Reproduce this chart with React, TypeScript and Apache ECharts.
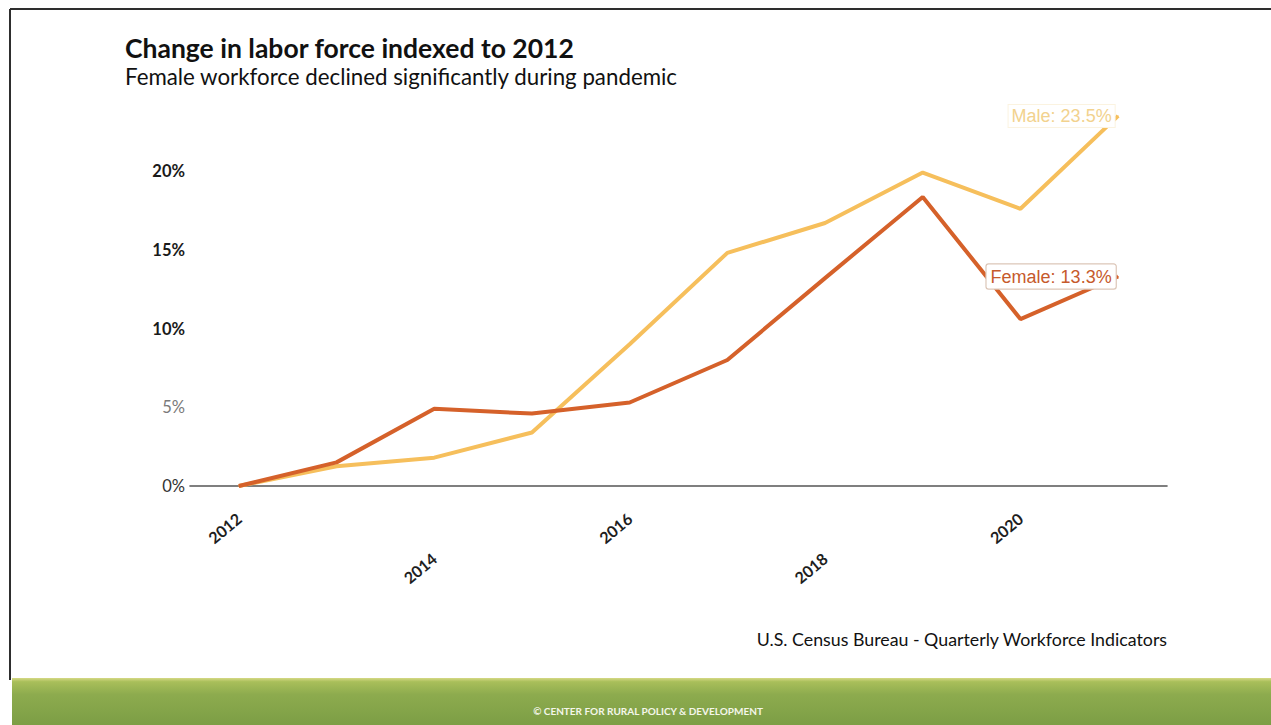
import React, { useEffect, useRef } from 'react';
import * as echarts from 'echarts';

const years = ['2012', '2013', '2014', '2015', '2016', '2017', '2018', '2019', '2020', '2021'];
const female = [0, 1.5, 4.9, 4.6, 5.3, 8.0, 13.2, 18.35, 10.6, 13.3];
const male = [0, 1.25, 1.8, 3.4, 9.0, 14.8, 16.7, 19.9, 17.6, 23.5];
const yMax = 25;
const yStep = 5;

const titleText = 'Change in labor force indexed to 2012';
const subtitleText = 'Female workforce declined significantly during pandemic';
const sourceText = 'U.S. Census Bureau - Quarterly Workforce Indicators';
const footerText = '© CENTER FOR RURAL POLICY & DEVELOPMENT';

const FEMALE_COLOR = '#d5612a';
const MALE_COLOR = '#f6bf5c';

function lastLabelData(values: number[], label: any) {
  return values.map((v, i) => (i === values.length - 1 ? { value: v, label } : v));
}

export default function App() {
  const ref = useRef<HTMLDivElement>(null);

  useEffect(() => {
    if (!ref.current) return;
    const chart = echarts.init(ref.current, undefined, { renderer: 'svg' });
    const font = 'Lato, "Open Sans", sans-serif';
    const xLabel = {
      rotate: 40,
      fontFamily: font,
      fontSize: 16,
      fontWeight: 'bold',
      color: '#1e1e1e',
    };
    const option: any = {
      animation: false,
      backgroundColor: '#ffffff',
      grid: { left: 190, right: 104, top: 92.25, bottom: 239, containLabel: false },
      xAxis: [
        {
          type: 'category',
          data: years,
          boundaryGap: true,
          axisLine: { show: true, lineStyle: { color: '#555555', width: 1.6 } },
          axisTick: { show: false },
          axisLabel: { ...xLabel, interval: (i: number) => i % 4 === 0, margin: 30 },
          splitLine: { show: false },
        },
        {
          type: 'category',
          data: years,
          boundaryGap: true,
          position: 'bottom',
          axisLine: { show: false },
          axisTick: { show: false },
          axisLabel: { ...xLabel, interval: (i: number) => i % 4 === 2, margin: 70 },
          splitLine: { show: false },
        },
      ],
      yAxis: {
        type: 'value',
        min: 0,
        max: yMax,
        interval: yStep,
        axisLine: { show: false },
        axisTick: { show: false },
        splitLine: { show: false },
        axisLabel: {
          margin: 5,
          formatter: (v: number) => {
            if (v >= yMax) return '';
            if (v === 5) return '{g|' + v + '%}';
            if (v === 0) return '{n|' + v + '%}';
            return '{b|' + v + '%}';
          },
          rich: {
            b: { fontFamily: font, fontSize: 16.5, fontWeight: 'bold', color: '#1a1a1a' },
            g: { fontFamily: font, fontSize: 16.5, color: '#7a7a7a' },
            n: { fontFamily: font, fontSize: 16.5, color: '#333333' },
          },
        },
      },
      series: [
        {
          name: 'Male',
          type: 'line',
          xAxisIndex: 0,
          symbol: 'circle',
          symbolSize: 1,
          showSymbol: true,
          itemStyle: { color: MALE_COLOR },
          lineStyle: { color: MALE_COLOR, width: 4 },
          label: { show: false },
          data: lastLabelData(male, {
            show: true,
            position: 'left',
            distance: 3,
            formatter: (p: any) => 'Male: ' + p.value + '%',
            fontFamily: 'Liberation Sans, Arial, sans-serif',
            fontSize: 18,
            color: '#f2d28e',
            backgroundColor: '#ffffff',
            borderColor: '#fbf3e0',
            borderWidth: 1,
            padding: [2, 3],
          }),
          z: 2,
        },
        {
          name: 'Female',
          type: 'line',
          xAxisIndex: 0,
          symbol: 'circle',
          symbolSize: 1,
          showSymbol: true,
          itemStyle: { color: FEMALE_COLOR },
          lineStyle: { color: FEMALE_COLOR, width: 4 },
          label: { show: false },
          data: lastLabelData(female, {
            show: true,
            position: 'left',
            distance: 2,
            formatter: (p: any) => 'Female: ' + p.value + '%',
            fontFamily: 'Liberation Sans, Arial, sans-serif',
            fontSize: 18,
            color: '#c65a2c',
            backgroundColor: '#ffffff',
            borderColor: '#dcc6b8',
            borderWidth: 1.2,
            borderRadius: 2,
            padding: [3, 4],
          }),
          z: 3,
        },
      ],
      graphic: [
        { type: 'line', shape: { x1: 10, y1: 9, x2: 1271, y2: 9 }, style: { stroke: '#2e2e2e', lineWidth: 2 } },
        { type: 'line', shape: { x1: 10, y1: 9, x2: 10, y2: 680 }, style: { stroke: '#2e2e2e', lineWidth: 2 } },
        {
          type: 'rect',
          shape: { x: 12, y: 678, width: 1259, height: 47 },
          style: {
            fill: new echarts.graphic.LinearGradient(0, 0, 0, 1, [
              { offset: 0, color: '#d6d985' },
              { offset: 0.08, color: '#a9bf5a' },
              { offset: 0.35, color: '#8dab4e' },
              { offset: 1, color: '#7c9e45' },
            ]),
          },
        },
        {
          type: 'text',
          left: 125,
          top: 34,
          style: { text: titleText, font: 'bold 26.5px ' + font, fill: '#111111' },
        },
        {
          type: 'text',
          left: 125,
          top: 65,
          style: { text: subtitleText, font: '22.3px ' + font, fill: '#111111' },
        },
        {
          type: 'text',
          right: 104,
          top: 630,
          style: { text: sourceText, font: '17.8px ' + font, fill: '#111111', textAlign: 'right' },
        },
        {
          type: 'text',
          x: 648,
          y: 711,
          style: {
            text: footerText,
            font: 'bold 10px ' + font,
            fill: '#f4f6ea',
            textAlign: 'center',
            textVerticalAlign: 'middle',
          },
        },
      ],
    };
    chart.setOption(option);
    return () => chart.dispose();
  }, []);

  return (
    <div
      ref={ref}
      style={{ position: 'fixed', left: 0, top: 0, width: 1271, height: 725, background: '#fff' }}
    />
  );
}
